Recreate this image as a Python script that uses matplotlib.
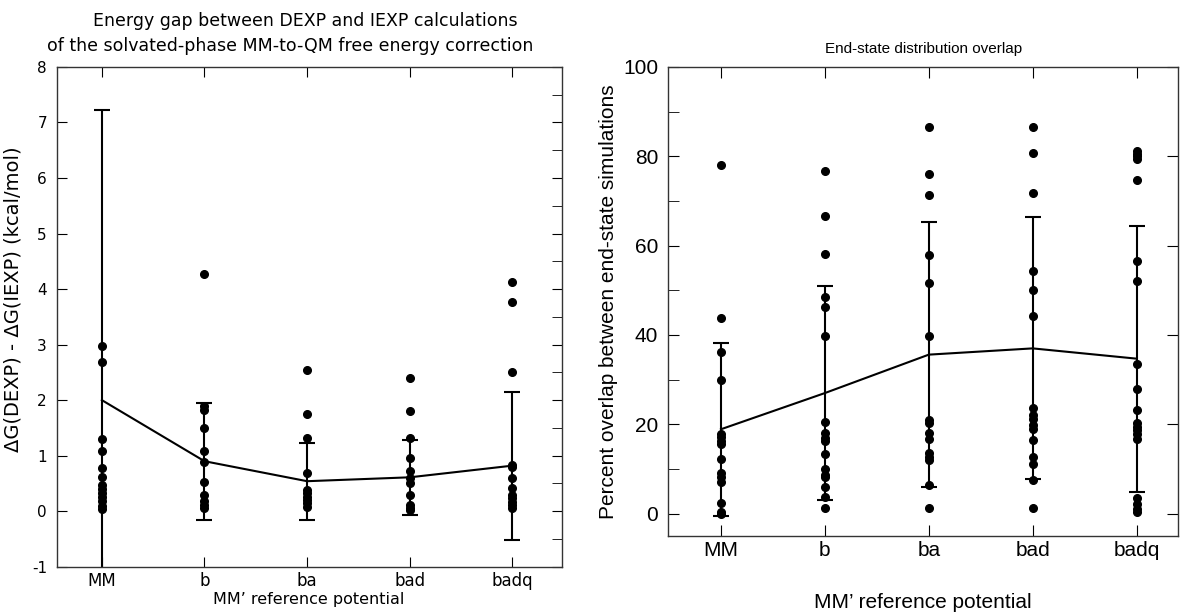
import numpy as np
from matplotlib import pyplot as plt
from matplotlib.ticker import MultipleLocator

plt.rcParams['font.family'] = ['Liberation Sans', 'DejaVu Sans']
plt.rcParams['axes.unicode_minus'] = False

#categories (MM' reference potentials)
potentials = ["MM", "b", "ba", "bad", "badq"]

#========================================
#   left panel: DEXP - IEXP energy gap
#========================================
gap_MM = [2.97, 2.68, 1.30, 1.08, 0.78, 0.62, 0.48, 0.40, 0.32, 0.25, 0.18, 0.10, 0.04]
gap_b = [4.28, 1.89, 1.82, 1.50, 1.08, 0.88, 0.53, 0.30, 0.19, 0.12, 0.05]
gap_ba = [2.55, 1.75, 1.31, 0.68, 0.38, 0.32, 0.26, 0.20, 0.14, 0.08]
gap_bad = [2.40, 1.81, 1.31, 0.96, 0.73, 0.59, 0.50, 0.30, 0.12, 0.06, 0.02]
gap_badq = [4.12, 3.77, 2.50, 0.84, 0.80, 0.59, 0.41, 0.30, 0.23, 0.17, 0.11, 0.05]
gap_mean = [2.00, 0.90, 0.54, 0.61, 0.82]
gap_sd = [5.22, 1.05, 0.69, 0.67, 1.33]

#========================================
#   right panel: end-state overlap (%)
#========================================
ov_MM = [78.1, 43.7, 36.3, 29.9, 17.8, 17.1, 16.2, 15.5, 12.2, 9.0, 8.2, 7.2, 2.5, 0.4, 0.0]
ov_b = [76.6, 66.6, 58.2, 48.5, 46.3, 39.7, 20.6, 18.0, 16.9, 16.3, 13.3, 10.1, 8.6, 8.1, 5.9, 3.7, 1.3]
ov_ba = [86.6, 76.0, 71.3, 58.0, 51.6, 39.8, 21.0, 20.2, 18.1, 16.8, 13.5, 12.7, 12.0, 6.4, 1.3]
ov_bad = [86.6, 80.7, 71.7, 54.3, 50.0, 44.3, 23.6, 22.1, 21.3, 19.8, 18.9, 16.5, 12.7, 11.2, 7.6, 1.3]
ov_badq = [81.2, 80.6, 80.1, 79.5, 74.7, 56.5, 52.0, 33.5, 27.8, 23.2, 20.2, 19.5, 18.7, 17.8, 16.8, 3.4, 2.2, 1.1, 0.4]
ov_mean = [18.9, 27.0, 35.6, 37.0, 34.7]
ov_sd = [19.4, 23.9, 29.7, 29.3, 29.8]


def draw_panel(ax, groups, means, sds):
    xs = np.arange(len(potentials))
    for i, vals in enumerate(groups):
        ax.plot([xs[i]] * len(vals), vals, "o", color="k", markersize=5.5, zorder=3)
    ax.errorbar(xs, means, yerr=sds, fmt="none", ecolor="k", elinewidth=1.5,
                capsize=6, capthick=1.5, zorder=2)
    ax.plot(xs, means, "-", color="k", linewidth=1.5, zorder=2)
    ax.set_xticks(xs)
    ax.set_xticklabels(potentials)
    for s in ax.spines.values():
        s.set_linewidth(1.0)
        s.set_color("#333333")


fig = plt.figure(figsize=(11.81, 6.14), dpi=100)

#left panel text looks wider in the original, DejaVu is closer
wide = ['DejaVu Sans']

ax1 = fig.add_axes([0.048, 0.077, 0.4276, 0.814])
draw_panel(ax1, [gap_MM, gap_b, gap_ba, gap_bad, gap_badq], gap_mean, gap_sd)
ax1.set_xlim(-0.44, 4.48)
ax1.set_ylim(-1, 8)
ax1.yaxis.set_major_locator(MultipleLocator(1))
ax1.yaxis.set_minor_locator(MultipleLocator(0.5))
ax1.tick_params(which="major", direction="in", top=True, right=True, length=7)
ax1.tick_params(which="minor", direction="in", left=False, right=True, length=7)
ax1.tick_params(axis="y", pad=7)
for lab in ax1.get_xticklabels():
    lab.set_family(wide)
    lab.set_fontsize(12)
for lab in ax1.get_yticklabels():
    lab.set_family(wide)
    lab.set_fontsize(11)
ax1.set_xlabel("MM\u2019 reference potential", fontsize=11.5, family=wide, labelpad=2)
ax1.set_ylabel("\u0394G(DEXP) - \u0394G(IEXP) (kcal/mol)", fontsize=14, family=wide)
ax1.yaxis.set_label_coords(-0.068, 0.535)

#two title lines, the second one sits a bit to the left in the original
fig.text(305 / 1181, 1 - 21 / 614, "Energy gap between DEXP and IEXP calculations",
         ha="center", va="center", fontsize=12.5, family=wide)
fig.text(290 / 1181, 1 - 46 / 614, "of the solvated-phase MM-to-QM free energy correction",
         ha="center", va="center", fontsize=12.5, family=wide)

ax2 = fig.add_axes([0.5656, 0.127, 0.432, 0.764])
draw_panel(ax2, [ov_MM, ov_b, ov_ba, ov_bad, ov_badq], ov_mean, ov_sd)
ax2.set_xlim(-0.51, 4.4)
ax2.set_ylim(-5, 100)
ax2.yaxis.set_major_locator(MultipleLocator(20))
ax2.yaxis.set_minor_locator(MultipleLocator(10))
ax2.tick_params(which="major", direction="in", top=True, right=True, length=8, labelsize=15)
ax2.tick_params(which="minor", direction="in", right=False, length=8)
ax2.tick_params(axis="y", pad=7)
ax2.set_xlabel("MM\u2019 reference potential", fontsize=15, labelpad=24)
ax2.set_ylabel("Percent overlap between end-state simulations", fontsize=15, labelpad=4)
ax2.set_title("End-state distribution overlap", fontsize=11, pad=10)

fig.savefig("out.png", dpi=100)
